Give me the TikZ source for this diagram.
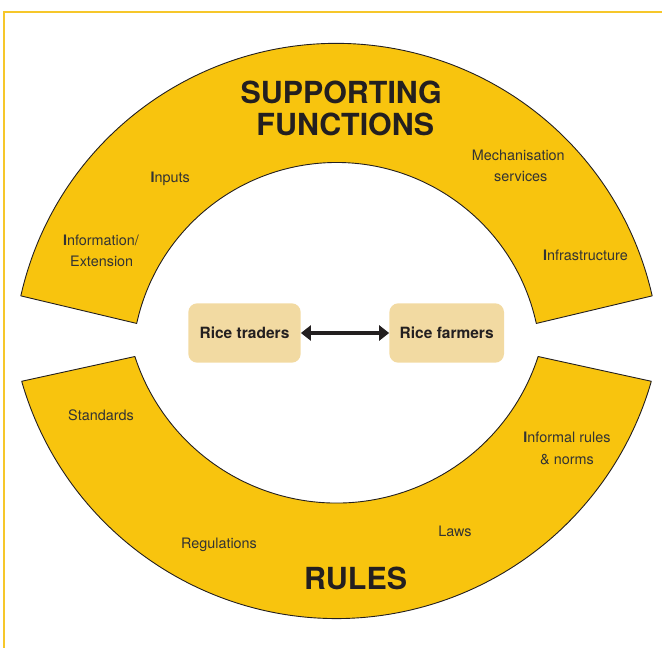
\documentclass[tikz,border=0pt]{standalone}
\usepackage{fontspec}
\setmainfont{TeX Gyre Heros}
\usetikzlibrary{arrows.meta,calc}
\definecolor{ringfill}{HTML}{F8C40E}
\definecolor{boxfill}{HTML}{F2DAA2}
\definecolor{framecol}{HTML}{F6C72A}
\definecolor{ink}{HTML}{231F20}
\definecolor{softink}{HTML}{333333}
\tikzset{
  ring/.style={fill=ringfill, draw=ink, line width=0.9pt, line join=round},
  actor/.style={fill=boxfill, rounded corners=9pt, font=\fontsize{15.5}{18}\selectfont\bfseries, text=ink, inner sep=0pt},
  item/.style={font=\fontsize{14.4}{17}\selectfont, text=softink, anchor=base, inner sep=0pt},
  heading/.style={font=\fontsize{30.4}{32}\selectfont\bfseries, text=ink, anchor=base, inner sep=0pt},
  link/.style={draw=ink, line width=4pt, {Triangle[length=10pt,width=15pt]}-{Triangle[length=10pt,width=15pt]}}
}
\newcommand{\capI}{{\bfseries I}}
\begin{document}
\begin{tikzpicture}[x=1pt,y=1pt]
\useasboundingbox (0,0) rectangle (662,-648);

% outer frame (top and left edges)
\draw[framecol, line width=1.4pt] (662,-12) -- (4,-12) -- (4,-648);

% ring centres
\coordinate (ctop) at (336.5,-367);
\coordinate (cbot) at (336.5,-291);

% upper half-ring: supporting functions
\draw[ring] ($(ctop)+(167.3:323.6)$) arc[start angle=167.3, end angle=12.7, radius=323.6pt]
  -- ($(ctop)+(12.3:204.5)$) arc[start angle=12.3, end angle=167.7, radius=204.5pt] -- cycle;

% lower half-ring: rules
\draw[ring] ($(cbot)+(196:327.5)$) arc[start angle=196, end angle=344, radius=327.5pt]
  -- ($(cbot)+(342:212)$) arc[start angle=342, end angle=198, radius=212pt] -- cycle;

% headings
\node[heading] (sup) at (341.2,-103) {SUPPORTING};
\node[heading] (fun) at (345.3,-135) {FUNCTIONS};
\node[heading] (rul) at (355.6,-589) {RULES};

% supporting functions
\node[item] (inputs) at (170.3,-182.7) {\capI nputs};
\node[item] (info1) at (101,-245) {\capI nformation/};
\node[item] (info2) at (101.7,-266.7) {Extension};
\node[item] (mech1) at (518.3,-160) {Mechanisation};
\node[item] (mech2) at (520.8,-181.7) {services};
\node[item] (infra) at (585.5,-260.7) {\capI nfrastructure};

% rules
\node[item] (std) at (101,-420) {Standards};
\node[item] (inf1) at (567,-442) {\capI nformal rules};
\node[item] (inf2) at (567,-464) {\& norms};
\node[item] (laws) at (455,-536) {Laws};
\node[item] (regs) at (219,-548) {Regulations};

% market actors
\node[actor, minimum width=112.4pt, minimum height=59.4pt] (traders) at (244.5,-333) {Rice traders};
\node[actor, minimum width=114.7pt, minimum height=59.4pt] (farmers) at (446.7,-333) {Rice farmers};
\draw[link] (traders.east) -- (farmers.west);
\end{tikzpicture}
\end{document}
